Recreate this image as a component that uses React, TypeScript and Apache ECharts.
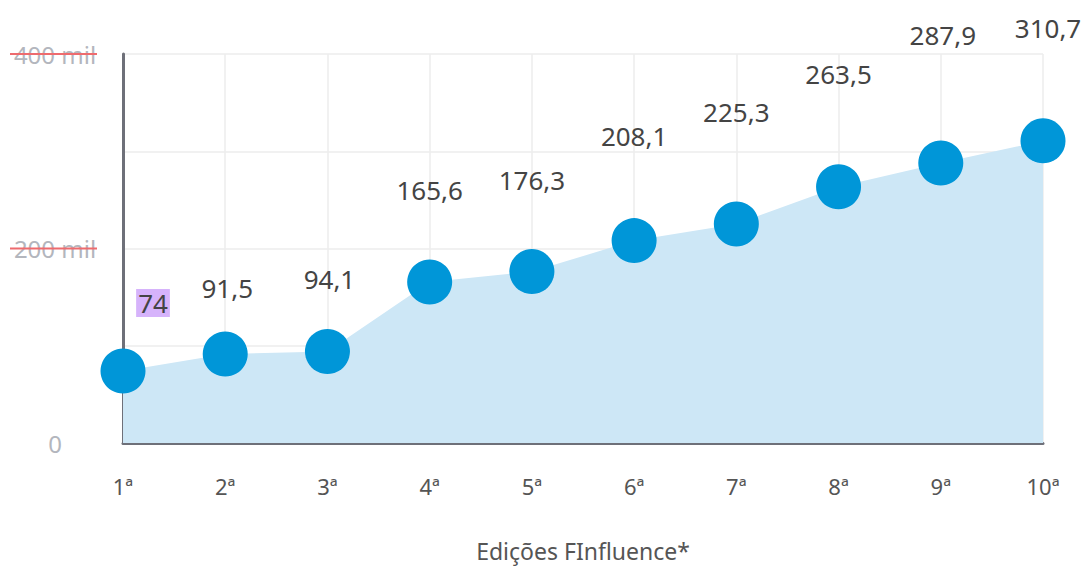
import React, { useEffect, useRef } from "react";
import * as echarts from "echarts";

const categories = ["1ª", "2ª", "3ª", "4ª", "5ª", "6ª", "7ª", "8ª", "9ª", "10ª"];
const values = [74, 91.5, 94.1, 165.6, 176.3, 208.1, 225.3, 263.5, 287.9, 310.7];
const valueLabels = ["74", "91,5", "94,1", "165,6", "176,3", "208,1", "225,3", "263,5", "287,9", "310,7"];
const labelOffsets = [
  [30, -68], [2, -66], [2, -72], [0, -92], [0, -92],
  [0, -105], [0, -112], [0, -113], [2, -128], [5, -113],
];
const yTickLabels: Record<number, string> = { 0: "0", 200: "200 mil", 400: "400 mil" };
const xAxisName = "Edições FInfluence*";

const FONT = "'Noto Sans', 'Open Sans', sans-serif";

export default function App() {
  const ref = useRef<HTMLDivElement>(null);
  useEffect(() => {
    if (!ref.current) return;
    const chart = echarts.init(ref.current, undefined, { renderer: "svg" });
    chart.setOption({
      animation: false,
      textStyle: { fontFamily: FONT },
      grid: {
        left: 123,
        right: 45,
        top: 54,
        bottom: 124,
        containLabel: false,
        outerBoundsMode: "none",
      },
      xAxis: {
        type: "category",
        data: categories,
        boundaryGap: false,
        axisLine: { lineStyle: { color: "#6e7079", width: 3 } },
        axisTick: { show: false },
        axisLabel: { color: "#555", fontSize: 22, margin: 32, fontFamily: FONT },
        splitLine: { show: true, lineStyle: { color: "#ececec", width: 1.5 } },
        name: xAxisName,
        nameLocation: "middle",
        nameGap: 96,
        nameTextStyle: { color: "#555", fontSize: 23, fontFamily: FONT },
      },
      yAxis: {
        type: "value",
        min: 0,
        max: 400,
        interval: 100,
        axisLine: { show: true, lineStyle: { color: "#6e7079", width: 3 } },
        axisTick: { show: false },
        axisLabel: {
          color: "#b3b6bd",
          fontSize: 24,
          margin: 68,
          align: "center",
          fontFamily: FONT,
          formatter: (v: number) => yTickLabels[v] ?? "",
        },
        splitLine: { show: true, lineStyle: { color: "#ececec", width: 1.5 } },
      },
      series: [
        {
          type: "line",
          data: values.map((v, i) => ({
            value: v,
            label: {
              formatter: valueLabels[i],
              offset: labelOffsets[i],
              ...(i === 0 ? { backgroundColor: "#d6b3fb", padding: [2, 2, 0, 2] } : {}),
            },
          })),
          symbol: "circle",
          symbolSize: 45,
          itemStyle: { color: "#0096d8" },
          lineStyle: { color: "#cde7f6", width: 0 },
          areaStyle: { color: "#cde7f6", opacity: 1 },
          label: {
            show: true,
            position: "inside",
            color: "#444",
            fontSize: 26,
            fontFamily: FONT,
          },
          z: 3,
        },
      ],
    });
    const ys = [200, 400].map((v) => chart.convertToPixel({ yAxisIndex: 0 }, v) as number);
    chart.setOption({
      graphic: ys.map((y) => ({
        type: "line",
        shape: { x1: 10, y1: y, x2: 97, y2: y },
        style: { stroke: "#ee6b6e", lineWidth: 2 },
        z: 10,
      })),
    });
    return () => chart.dispose();
  }, []);
  return (
    <div
      ref={ref}
      style={{ position: "absolute", left: 0, top: 0, width: 1088, height: 567 }}
    />
  );
}
